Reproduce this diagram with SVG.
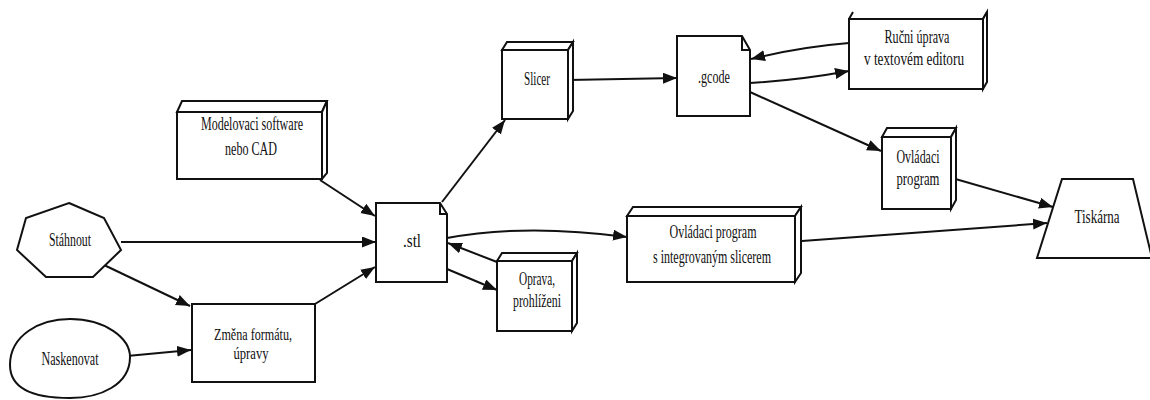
<svg xmlns="http://www.w3.org/2000/svg" width="1150" height="400" viewBox="0 0 1150 400">
<defs>
<marker id="ah" markerUnits="userSpaceOnUse" markerWidth="15" markerHeight="12" refX="14" refY="5.5" orient="auto">
<path d="M0,0 L14,5.5 L0,11 Z" fill="#111"/>
</marker>
<style>
.s{fill:#fff;stroke:#111;stroke-width:2;stroke-linejoin:miter}
.ln{fill:none;stroke:#111;stroke-width:2}
.c{fill:none;stroke:#111;stroke-width:2;marker-end:url(#ah)}
text{font-family:"Liberation Serif","Times New Roman",serif;font-size:18px;fill:#111;text-anchor:middle}
.sm{font-size:16px}
</style>
</defs>
<rect width="1150" height="400" fill="#fff"/>
<g id="connectors">
<path class="c" d="M104,265 L190,306"/>
<path class="c" d="M127,356 L191,350"/>
<path class="c" d="M121,242 L376,242"/>
<path class="c" d="M320,180 L375,216"/>
<path class="c" d="M315,304 L375,267"/>
<path class="c" d="M442,202 L505,120"/>
<path class="c" d="M568,80 L677,78"/>
<path class="c" d="M849,43 Q800,47 751,59"/>
<path class="c" d="M750,83 Q800,80 849,71"/>
<path class="c" d="M750,92 L881,151"/>
<path class="c" d="M952,178 L1053,207"/>
<path class="c" d="M447,238 C500,228 560,228 627,237"/>
<path class="c" d="M802,241 L1047,223"/>
<path class="c" d="M447,269 L497,290"/>
<path class="c" d="M497,262 L448,243"/>
</g>
<g id="stahnout">
<polygon class="s" points="69,203 104,218 121,250 93,277 46,277 17,250 26,218"/>
<text x="70" y="246" textLength="42" lengthAdjust="spacingAndGlyphs">Stáhnout</text>
</g>
<g id="naskenovat">
<path class="s" d="M10,365 C10,335 40,319 70,319 C105,319 130,338 130,357 C130,385 100,398 70,398 C35,398 10,390 10,365 Z"/>
<text x="70" y="365" textLength="57" lengthAdjust="spacingAndGlyphs">Naskenovat</text>
</g>
<g id="modelovaci">
<path class="s" d="M177,112 L182,101 L327,101 L322,112 Z"/>
<path class="s" d="M322,112 L327,101 L327,173 L322,179 Z"/>
<rect class="s" x="177" y="112" width="145" height="67"/>
<text x="252" y="130" textLength="102" lengthAdjust="spacingAndGlyphs">Modelovaci software</text>
<text x="251" y="155" textLength="52" lengthAdjust="spacingAndGlyphs">nebo CAD</text>
</g>
<g id="zmena">
<rect class="s" x="192" y="304" width="123" height="78"/>
<text class="sm" x="253" y="340" textLength="78" lengthAdjust="spacingAndGlyphs">Změna formátu,</text>
<text class="sm" x="251" y="359" textLength="35" lengthAdjust="spacingAndGlyphs">úpravy</text>
</g>
<g id="stl">
<path class="s" d="M376,203 H440 L447,214 V282 H376 Z"/>
<path class="ln" d="M440,203 V214 H447"/>
<text x="412" y="247" textLength="18" lengthAdjust="spacingAndGlyphs">.stl</text>
</g>
<g id="oprava">
<path class="s" d="M497,261 L502,253 L577,253 L572,261 Z"/>
<path class="s" d="M572,261 L577,253 L577,323 L572,331 Z"/>
<rect class="s" x="497" y="261" width="75" height="70"/>
<text x="537" y="285" textLength="36" lengthAdjust="spacingAndGlyphs">Oprava,</text>
<text x="537" y="307" textLength="48" lengthAdjust="spacingAndGlyphs">prohlíženi</text>
</g>
<g id="slicer">
<path class="s" d="M502,50 L507,42 L573,42 L568,50 Z"/>
<path class="s" d="M568,50 L573,42 L573,111 L568,119 Z"/>
<rect class="s" x="502" y="50" width="66" height="69"/>
<text x="537" y="85" textLength="26" lengthAdjust="spacingAndGlyphs">Slicer</text>
</g>
<g id="gcode">
<path class="s" d="M677,36 H742 L750,50 V116 H677 Z"/>
<path class="ln" d="M742,36 V50 H750"/>
<text x="714" y="83" textLength="32" lengthAdjust="spacingAndGlyphs">.gcode</text>
</g>
<g id="rucni">
<path class="ln" d="M849,19 L853,12 M983,19 L987,12"/>
<path class="s" d="M983,19 L987,12 L987,82 L983,89 Z"/>
<rect class="s" x="849" y="19" width="134" height="70"/>
<text x="917" y="43" textLength="65" lengthAdjust="spacingAndGlyphs">Ručni úprava</text>
<text x="914" y="65" textLength="100" lengthAdjust="spacingAndGlyphs">v textovém editoru</text>
</g>
<g id="ovladaci">
<path class="s" d="M882,137 L887,128 L956,128 L951,137 Z"/>
<path class="s" d="M951,137 L956,128 L956,200 L951,209 Z"/>
<rect class="s" x="882" y="137" width="69" height="72"/>
<text x="918" y="163" textLength="43" lengthAdjust="spacingAndGlyphs">Ovládaci</text>
<text x="918" y="185" textLength="43" lengthAdjust="spacingAndGlyphs">program</text>
</g>
<g id="ovladaci-int">
<path class="s" d="M627,216 L633,207 L801,207 L795,216 Z"/>
<path class="s" d="M795,216 L801,207 L801,273 L795,282 Z"/>
<rect class="s" x="627" y="216" width="168" height="66"/>
<text x="713" y="238" textLength="87" lengthAdjust="spacingAndGlyphs">Ovládaci program</text>
<text x="712" y="263" textLength="118" lengthAdjust="spacingAndGlyphs">s integrovaným slicerem</text>
</g>
<g id="tiskarna">
<polygon class="s" points="1062,179 1133,179 1152,258 1037,258"/>
<text x="1097" y="223" textLength="45" lengthAdjust="spacingAndGlyphs">Tiskárna</text>
</g>
</svg>
